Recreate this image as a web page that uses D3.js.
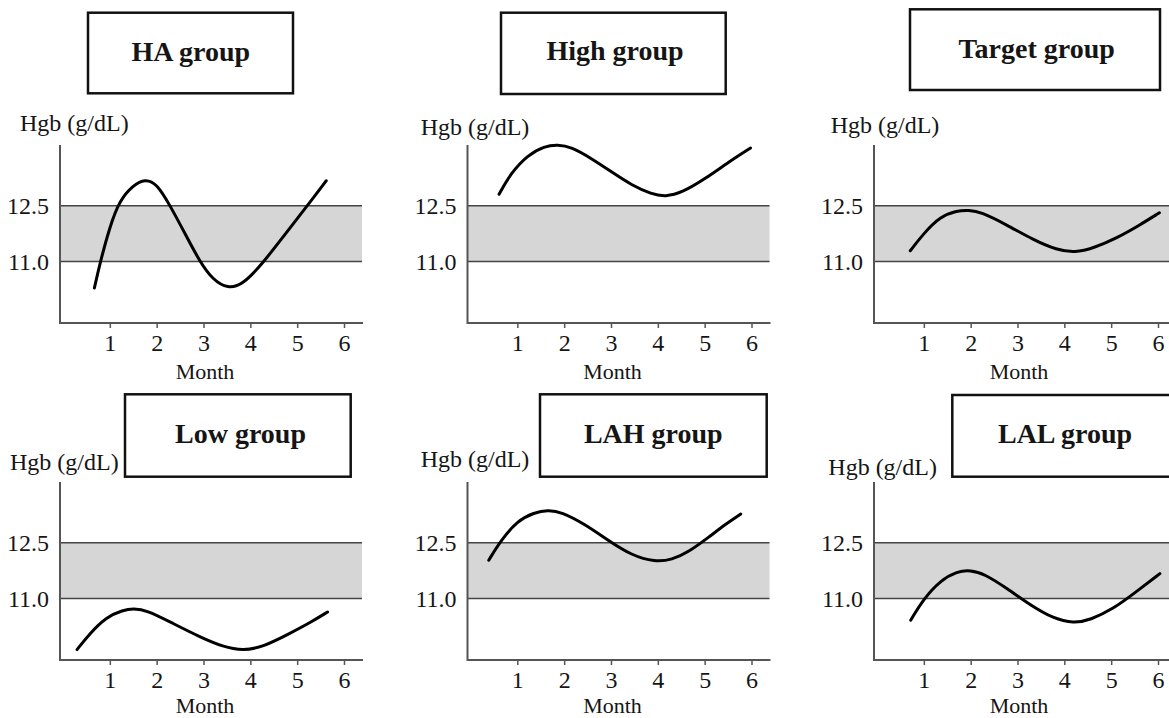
<!DOCTYPE html>
<html>
<head>
<meta charset="utf-8">
<script src="https://cdn.jsdelivr.net/npm/d3@7"></script>
<style>
    body { margin: 0; background: #fff; }
    svg { display: block; font-family: "Liberation Serif", "Times New Roman", serif; }
</style>
</head>
<body>
<div id="chart"></div>
<script>
// group names, in reading order
const groups = ["HA group", "High group", "Target group", "Low group", "LAH group", "LAL group"];

// Hgb curves (month, g/dL)
const haMonth = [0.67, 0.79, 1.0, 1.21, 1.50, 1.75, 2.0, 2.28, 2.64, 2.92, 3.20, 3.52, 3.84, 4.27, 4.70, 5.20, 5.62];
const haHgb   = [10.29, 10.96, 11.94, 12.65, 13.05, 13.22, 13.10, 12.52, 11.67, 11.0, 10.51, 10.27, 10.38, 10.96, 11.67, 12.47, 13.17];

const highMonth = [0.61, 0.86, 1.22, 1.58, 1.86, 2.15, 2.58, 3.01, 3.44, 3.87, 4.16, 4.52, 5.02, 5.52, 5.98];
const highHgb   = [12.81, 13.37, 13.86, 14.10, 14.14, 14.08, 13.77, 13.41, 13.05, 12.81, 12.74, 12.85, 13.23, 13.68, 14.05];

const targetMonth = [0.71, 1.0, 1.35, 1.71, 1.96, 2.21, 2.78, 3.34, 3.84, 4.23, 4.62, 5.12, 5.61, 6.03];
const targetHgb   = [11.29, 11.76, 12.21, 12.37, 12.38, 12.34, 11.98, 11.58, 11.31, 11.24, 11.36, 11.63, 11.98, 12.31];

const lowMonth = [0.30, 0.57, 0.93, 1.28, 1.50, 1.79, 2.35, 2.92, 3.42, 3.85, 4.27, 4.84, 5.30, 5.65];
const lowHgb   = [9.63, 10.06, 10.51, 10.69, 10.73, 10.69, 10.33, 9.97, 9.70, 9.60, 9.70, 10.06, 10.37, 10.64];

const lahMonth = [0.39, 0.65, 1.0, 1.36, 1.65, 1.94, 2.44, 2.94, 3.44, 3.94, 4.30, 4.66, 5.09, 5.45, 5.77];
const lahHgb   = [12.03, 12.56, 13.09, 13.31, 13.38, 13.33, 13.00, 12.56, 12.16, 11.98, 12.04, 12.25, 12.65, 13.00, 13.27];

const lalMonth = [0.72, 1.0, 1.36, 1.71, 2.0, 2.28, 2.78, 3.28, 3.77, 4.20, 4.55, 5.05, 5.48, 6.04];
const lalHgb   = [10.42, 11.0, 11.49, 11.73, 11.76, 11.67, 11.27, 10.82, 10.46, 10.34, 10.42, 10.73, 11.13, 11.67];

const months = [haMonth, highMonth, targetMonth, lowMonth, lahMonth, lalMonth];
const hgbs = [haHgb, highHgb, targetHgb, lowHgb, lahHgb, lalHgb];

// target range and ticks
const targetRange = [11.0, 12.5];
const monthTicks = [1, 2, 3, 4, 5, 6];
const yDomain = [9.35, 14.13];
const labelY = "Hgb (g/dL)";
const labelX = "Month";

// layout of each panel (absolute page coordinates, my is relative to the panel)
const layout = [
    {ox: 0,     oy: 0,   box: [88, 12.7, 205, 80.6],  tx: 190.8, ty: 61,    hx: 20,    hy: 131,   my: 379},
    {ox: 407.5, oy: 0,   box: [501, 12.7, 224.7, 81.3], tx: 615,  ty: 60,    hx: 420.7, hy: 135,   my: 379},
    {ox: 814,   oy: 0,   box: [910, 9.3, 250, 80.7],  tx: 1036.7, ty: 58.3, hx: 830.7, hy: 133.3, my: 379},
    {ox: 0,     oy: 337, box: [125, 394.3, 225.7, 82.4], tx: 240.5, ty: 443.3, hx: 10,  hy: 470,   my: 376},
    {ox: 407.5, oy: 337, box: [540, 394.3, 226.7, 82.4], tx: 653.3, ty: 443.3, hx: 420.7, hy: 466.7, my: 376},
    {ox: 814,   oy: 337, box: [952.3, 395, 240, 81.7], tx: 1065, ty: 443.3, hx: 828.3, hy: 475,   my: 376}
];

const width = 1169, height = 718;
const plot = {left: 60, right: 363, top: 145, bottom: 323};

const svg = d3.select("#chart").append("svg")
    .attr("width", width)
    .attr("height", height)
    .attr("viewBox", `0 0 ${width} ${height}`);

const scaleX = d3.scaleLinear([0, 6], [63, 344]);
const scaleY = d3.scaleLinear(yDomain, [plot.bottom, plot.top]);

const line = d3.line()
    .x(d => scaleX(d[0]))
    .y(d => scaleY(d[1]))
    .curve(d3.curveBasis);

const textColor = "#151515";

groups.forEach((name, i) => {
    const L = layout[i];
    const g = svg.append("g").attr("transform", `translate(${L.ox},${L.oy})`);

    // target band
    g.append("rect")
        .attr("x", plot.left)
        .attr("y", scaleY(targetRange[1]))
        .attr("width", plot.right - plot.left - 1)
        .attr("height", scaleY(targetRange[0]) - scaleY(targetRange[1]))
        .attr("fill", "#d6d6d6");

    targetRange.forEach(v => {
        g.append("line")
            .attr("x1", plot.left).attr("x2", plot.right - 1)
            .attr("y1", scaleY(v)).attr("y2", scaleY(v))
            .attr("stroke", "#444").attr("stroke-width", 1.6);
    });

    // axes
    const axisX = g.append("g")
        .attr("transform", `translate(0,${plot.bottom})`)
        .call(d3.axisBottom(scaleX).tickValues(monthTicks).tickFormat(d3.format("d"))
            .tickSize(5).tickPadding(6).tickSizeOuter(0));
    axisX.select(".domain").remove();
    axisX.selectAll(".tick line").attr("stroke", "#555").attr("stroke-width", 1.5);
    axisX.selectAll(".tick text")
        .attr("fill", textColor)
        .style("font-size", "24px")
        .style("font-family", "'Liberation Serif', 'Times New Roman', serif");

    const axisY = g.append("g")
        .attr("transform", `translate(${plot.left - 11},0)`)
        .call(d3.axisLeft(scaleY).tickValues(targetRange).tickSize(0).tickPadding(0).tickFormat(d3.format(".1f")));
    axisY.select(".domain").remove();
    axisY.selectAll(".tick text")
        .attr("fill", textColor)
        .style("font-size", "24px")
        .style("font-family", "'Liberation Serif', 'Times New Roman', serif");

    g.append("path")
        .attr("d", `M${plot.left},${plot.top}V${plot.bottom}H${plot.right}`)
        .attr("fill", "none")
        .attr("stroke", "#555")
        .attr("stroke-width", 2);

    // curve
    g.append("path")
        .datum(d3.zip(months[i], hgbs[i]))
        .attr("d", line)
        .attr("fill", "none")
        .attr("stroke", "#000")
        .attr("stroke-width", 3)
        .attr("stroke-linecap", "round");

    g.append("text")
        .attr("x", 205)
        .attr("y", L.my)
        .attr("text-anchor", "middle")
        .attr("fill", textColor)
        .style("font-size", "22px")
        .text(labelX);

    // title box and y label (page coordinates)
    svg.append("rect")
        .attr("x", L.box[0]).attr("y", L.box[1])
        .attr("width", L.box[2]).attr("height", L.box[3])
        .attr("fill", "#fff")
        .attr("stroke", "#111")
        .attr("stroke-width", 2.5);

    svg.append("text")
        .attr("x", L.tx).attr("y", L.ty)
        .attr("text-anchor", "middle")
        .attr("fill", textColor)
        .style("font-size", "28px")
        .style("font-weight", "bold")
        .text(name);

    svg.append("text")
        .attr("x", L.hx).attr("y", L.hy)
        .attr("fill", textColor)
        .style("font-size", "24px")
        .text(labelY);
});
</script>
</body>
</html>
